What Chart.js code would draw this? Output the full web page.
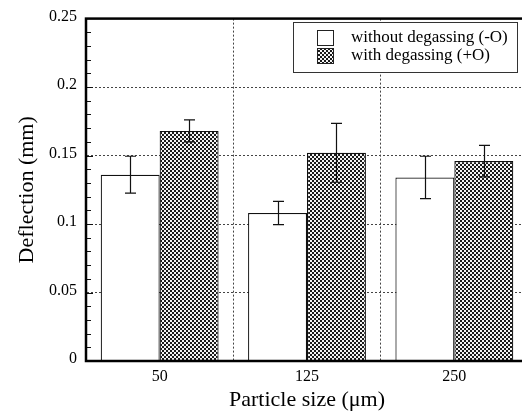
<!DOCTYPE html>
<html>
<head>
<meta charset="utf-8">
<script src="https://cdn.jsdelivr.net/npm/chart.js@4/dist/chart.umd.min.js"></script>
<style>
  html, body { margin: 0; padding: 0; background: #fff; overflow: hidden; }
  #wrap { width: 522px; height: 415px; overflow: hidden; }
</style>
</head>
<body>
<div id="wrap"><canvas id="chart" width="530" height="415"></canvas></div>
<script>
// ---- data ----
const particleSizes = ['50', '125', '250'];
const withoutDegassing = [0.136, 0.108, 0.134];
const withoutDegassingErr = [0.0135, 0.0085, 0.0155];
const withDegassing = [0.168, 0.152, 0.146];
const withDegassingErr = [0.008, 0.0215, 0.0115];
const yTicks = ['0', '0.05', '0.1', '0.15', '0.2', '0.25'];

const SERIF = '"Liberation Serif", "Times New Roman", serif';

// checkered fill used for the "+O" bars
function makeChecker() {
    const c = document.createElement('canvas');
    c.width = 4; c.height = 4;
    const g = c.getContext('2d');
    g.fillStyle = '#f4f4f4';
    g.fillRect(0, 0, 4, 4);
    g.fillStyle = '#1a1a1a';
    g.fillRect(0, 0, 2, 2);
    g.fillRect(2, 2, 2, 2);
    return g.createPattern(c, 'repeat');
}
const checker = makeChecker();

// error bars, drawn from the bar elements and the y scale
const errorBars = {
    id: 'errorBars',
    afterDatasetsDraw(chart) {
        const ctx = chart.ctx;
        const y = chart.scales.y;
        const errs = [withoutDegassingErr, withDegassingErr];
        ctx.save();
        ctx.strokeStyle = '#111';
        ctx.lineWidth = 1.2;
        chart.data.datasets.forEach((ds, di) => {
            chart.getDatasetMeta(di).data.forEach((bar, i) => {
                const v = ds.data[i];
                const top = y.getPixelForValue(v + errs[di][i]);
                const bot = y.getPixelForValue(v - errs[di][i]);
                const x = Math.round(bar.x) + 0.5;
                ctx.beginPath();
                ctx.moveTo(x, top); ctx.lineTo(x, bot);
                ctx.moveTo(x - 5.5, top); ctx.lineTo(x + 5.5, top);
                ctx.moveTo(x - 5.5, bot); ctx.lineTo(x + 5.5, bot);
                ctx.stroke();
            });
        });
        ctx.restore();
    }
};

// frame, inward minor ticks and boxed legend
const frameAndLegend = {
    id: 'frameAndLegend',
    afterDraw(chart) {
        const ctx = chart.ctx;
        const a = chart.chartArea;
        const y = chart.scales.y;
        ctx.save();
        // minor ticks every 0.01 on the left axis
        ctx.strokeStyle = '#111';
        ctx.lineWidth = 1;
        for (let k = 1; k < 25; k++) {
            const py = Math.round(y.getPixelForValue(k / 100)) + 0.5;
            ctx.beginPath();
            ctx.moveTo(a.left, py);
            ctx.lineTo(a.left + (k % 5 === 0 ? 7 : 5), py);
            ctx.stroke();
        }
        // frame
        ctx.lineWidth = 2.5;
        ctx.strokeStyle = '#000';
        ctx.strokeRect(a.left, a.top, a.right - a.left, a.bottom - a.top);

        // legend box
        const bx = 293, by = 22, bw = 224, bh = 50;
        ctx.fillStyle = '#fff';
        ctx.fillRect(bx, by, bw, bh);
        ctx.lineWidth = 1;
        ctx.strokeStyle = '#333';
        ctx.strokeRect(bx + 0.5, by + 0.5, bw, bh);
        const fills = ['#fff', checker];
        ctx.font = '17px ' + SERIF;
        ctx.textBaseline = 'middle';
        chart.data.datasets.forEach((ds, i) => {
            const sy = 30 + i * 18;
            ctx.fillStyle = fills[i];
            ctx.fillRect(317, sy, 16, 15);
            ctx.strokeStyle = '#222';
            ctx.strokeRect(317.5, sy + 0.5, 16, 15);
            ctx.fillStyle = '#000';
            ctx.fillText(ds.label, 351, sy + 8);
        });
        ctx.restore();
    }
};

new Chart(document.getElementById('chart'), {
    type: 'bar',
    data: {
        labels: particleSizes,
        datasets: [
            {
                label: 'without degassing (-O)',
                data: withoutDegassing,
                backgroundColor: '#fff',
                borderColor: '#111',
                borderWidth: 1.2,
                categoryPercentage: 0.8,
                barPercentage: 1.0
            },
            {
                label: 'with degassing (+O)',
                data: withDegassing,
                backgroundColor: checker,
                borderColor: '#111',
                borderWidth: 1.2,
                categoryPercentage: 0.8,
                barPercentage: 1.0
            }
        ]
    },
    options: {
        responsive: false,
        animation: false,
        layout: { padding: { top: 13, right: 2, left: 0, bottom: 0 } },
        plugins: {
            legend: { display: false },
            tooltip: { enabled: false }
        },
        scales: {
            x: {
                grid: { color: '#444', drawTicks: false, offset: true },
                border: { display: true, color: '#000', width: 2, dash: [2, 2] },
                ticks: { color: '#000', padding: 6, font: { family: SERIF, size: 16 } },
                title: {
                    display: true,
                    text: 'Particle size (μm)',
                    color: '#000',
                    font: { family: SERIF, size: 22 },
                    padding: { top: 0, bottom: 2 }
                },
                afterFit(scale) { scale.height = 54; }
            },
            y: {
                min: 0,
                max: 0.25,
                grid: { color: '#444', drawTicks: false },
                border: { display: true, color: '#000', width: 2, dash: [2, 2] },
                ticks: {
                    stepSize: 0.05,
                    color: '#000',
                    padding: 9,
                    labelOffset: -2,
                    font: { family: SERIF, size: 16 },
                    callback: (v, i) => yTicks[i]
                },
                title: {
                    display: true,
                    text: 'Deflection (mm)',
                    color: '#000',
                    font: { family: SERIF, size: 22 },
                    padding: { top: 14, bottom: 0 }
                },
                afterFit(scale) { scale.width = 86; }
            }
        }
    },
    plugins: [errorBars, frameAndLegend]
});
</script>
</body>
</html>
